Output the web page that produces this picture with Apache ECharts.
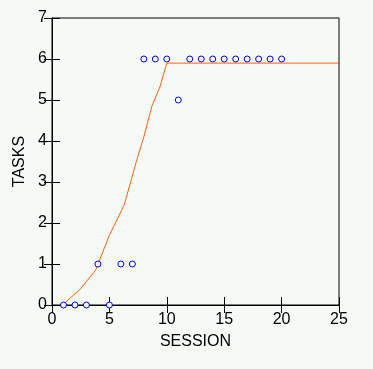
<!DOCTYPE html>
<html>
<head>
<meta charset="utf-8">
<script src="https://cdn.jsdelivr.net/npm/echarts@6/dist/echarts.min.js"></script>
<style>
  html, body { margin: 0; padding: 0; background: #f6faf7; }
  #main { width: 373px; height: 369px; }
</style>
</head>
<body>
<div id="main"></div>
<script>
// observed tasks per session
var sessions = [1, 2, 3, 4, 5, 6, 7, 8, 9, 10, 11, 12, 13, 14, 15, 16, 17, 18, 19, 20];
var tasks = [0, 0, 0, 1, 0, 1, 1, 6, 6, 6, 5, 6, 6, 6, 6, 6, 6, 6, 6, 6];

// fitted curve
var fitX = [1.1, 2.4, 3.8, 5.0, 6.3, 7.4, 8.0, 8.7, 9.4, 10.0, 25];
var fitY = [0.05, 0.37, 0.85, 1.7, 2.45, 3.55, 4.1, 4.85, 5.32, 5.9, 5.9];

var xTicks = [0, 5, 10, 15, 20, 25];
var yTicks = [0, 1, 2, 3, 4, 5, 6, 7];

var myChart = echarts.init(document.getElementById('main'));

var pts = [];
for (var i = 0; i < sessions.length; i++) pts.push([sessions[i], tasks[i]]);
var fit = [];
for (var j = 0; j < fitX.length; j++) fit.push([fitX[j], fitY[j]]);

var font = 'Liberation Sans';
var tickStyle = { show: true, inside: true, length: 8, lineStyle: { color: '#000', width: 1 } };

option = {
  backgroundColor: '#f6faf7',
  animation: false,
  grid: { left: 52, right: 34, top: 18, bottom: 64, show: true, borderColor: '#000', borderWidth: 1 },
  xAxis: [{
    type: 'value', min: xTicks[0], max: xTicks[xTicks.length - 1], interval: 5,
    name: 'SESSION', nameLocation: 'middle', nameGap: 29,
    nameTextStyle: { fontFamily: font, fontSize: 16, color: '#000' },
    axisLine: { show: true, lineStyle: { color: '#000' } },
    axisTick: tickStyle,
    axisLabel: { fontFamily: font, fontSize: 16, color: '#000', margin: 7 },
    splitLine: { show: false }
  }, {
    type: 'value', position: 'top', min: 0, max: 25, interval: 5,
    axisLine: { show: true, lineStyle: { color: '#000' } },
    axisTick: tickStyle, axisLabel: { show: false }, splitLine: { show: false }
  }],
  yAxis: [{
    type: 'value', min: yTicks[0], max: yTicks[yTicks.length - 1], interval: 1,
    name: 'TASKS', nameLocation: 'middle', nameGap: 22,
    nameTextStyle: { fontFamily: font, fontSize: 16, color: '#000' },
    axisLine: { show: true, lineStyle: { color: '#000' } },
    axisTick: tickStyle,
    axisLabel: { fontFamily: font, fontSize: 16, color: '#000', margin: 5 },
    splitLine: { show: false }
  }, {
    type: 'value', position: 'right', min: 0, max: 7, interval: 1,
    axisLine: { show: true, lineStyle: { color: '#000' } },
    axisTick: tickStyle, axisLabel: { show: false }, splitLine: { show: false }
  }],
  series: [{
    name: 'fit',
    type: 'line',
    data: fit,
    showSymbol: false,
    smooth: false,
    lineStyle: { color: '#ff6010', width: 1 },
    z: 2
  }, {
    name: 'tasks',
    type: 'scatter',
    data: pts,
    symbol: 'circle',
    symbolSize: 6,
    itemStyle: { color: '#f6faf7', borderColor: '#0000ff', borderWidth: 1, opacity: 1 },
    z: 3
  }]
};
myChart.setOption(option);
</script>
</body>
</html>
